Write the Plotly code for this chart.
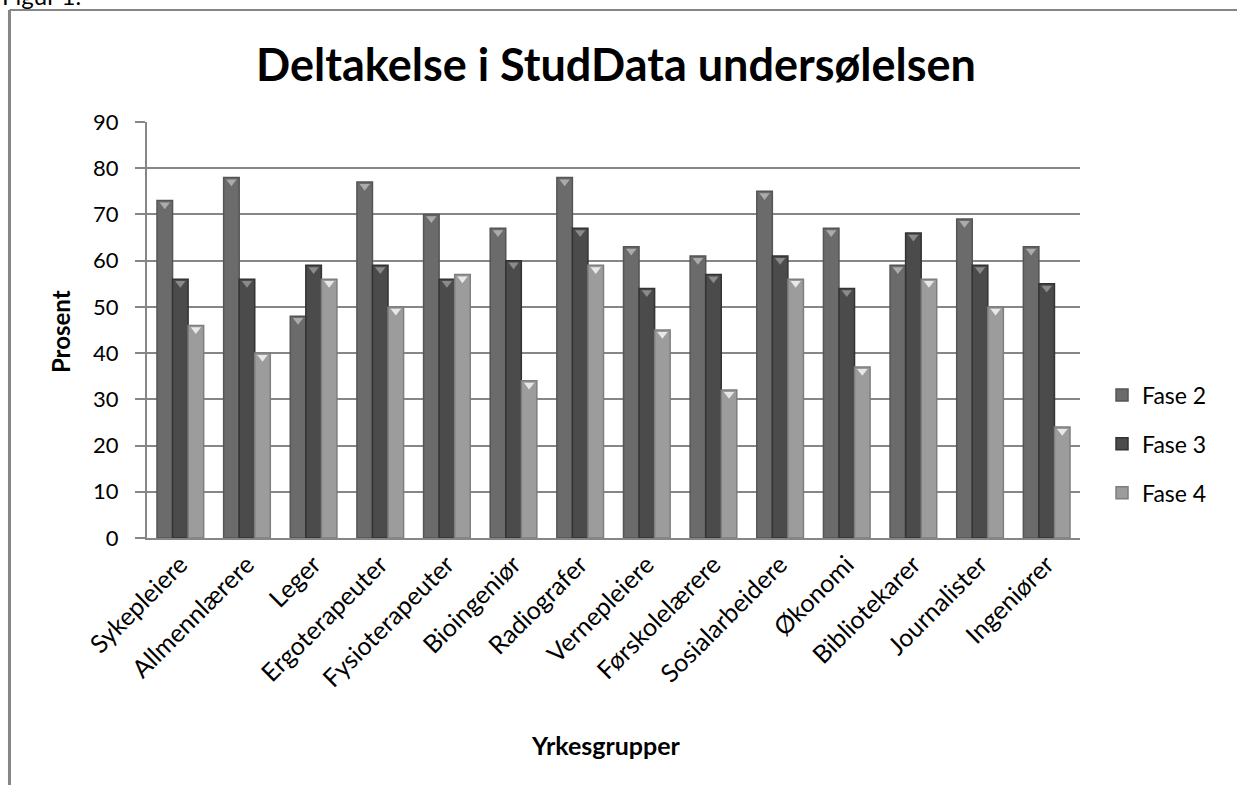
import plotly.graph_objects as go

categories = ["Sykepleiere", "Allmennlærere", "Leger", "Ergoterapeuter", "Fysioterapeuter",
              "Bioingeniør", "Radiografer", "Vernepleiere", "Førskolelærere", "Sosialarbeidere",
              "Økonomi", "Bibliotekarer", "Journalister", "Ingeniører"]
fase2 = [73, 78, 48, 77, 70, 67, 78, 63, 61, 75, 67, 59, 69, 63]
fase3 = [56, 56, 59, 59, 56, 60, 67, 54, 57, 61, 54, 66, 59, 55]
fase4 = [46, 40, 56, 50, 57, 34, 59, 45, 32, 56, 37, 56, 50, 24]
series_names = ["Fase 2", "Fase 3", "Fase 4"]
y_ticks = [0, 10, 20, 30, 40, 50, 60, 70, 80, 90]

bar_colors = ["#6b6b6b", "#4b4b4b", "#9c9c9c"]
edge_colors = ["#555555", "#333333", "#7e7e7e"]
cap_colors = ["#ababab", "#8a8a8a", "#e8e8e8"]

FONT = "Lato, 'Noto Sans', sans-serif"

fig = go.Figure()
for i, (name, vals) in enumerate(zip(series_names, [fase2, fase3, fase4])):
    fig.add_trace(go.Bar(
        x=categories, y=vals, name=name, offsetgroup=str(i), legendgroup=name,
        marker=dict(color=bar_colors[i], line=dict(color=edge_colors[i], width=1.5)),
    ))
for i, (name, vals) in enumerate(zip(series_names, [fase2, fase3, fase4])):
    fig.add_trace(go.Scatter(
        x=categories, y=[v - 0.9 for v in vals], mode="markers", offsetgroup=str(i),
        legendgroup=name,
        marker=dict(symbol="triangle-down", size=9, color=cap_colors[i], line=dict(width=0)),
        showlegend=False, hoverinfo="skip",
    ))

fig.update_layout(
    width=1237, height=785,
    paper_bgcolor="white", plot_bgcolor="white",
    margin=dict(l=147, r=157, t=122, b=247),
    barmode="group", bargap=0.3, bargroupgap=0.0,
    scattermode="group", scattergap=0.3,
    font=dict(family=FONT, color="#000000"),
    title=dict(text="<b>Deltakelse i StudData undersølelsen</b>",
               font=dict(size=45, family=FONT, color="#000"),
               x=0.498, xanchor="center", y=0.917, yanchor="middle"),
    legend=dict(x=1.0236, y=0.226, xanchor="left", yanchor="middle",
                font=dict(size=23, family=FONT), itemwidth=30,
                tracegroupgap=16, traceorder="grouped", bgcolor="rgba(0,0,0,0)"),
    xaxis=dict(type="category", tickangle=-45, tickfont=dict(size=25, family=FONT),
               showline=True, linecolor="#868686", linewidth=2,
               showgrid=False, ticks="", automargin=False),
    yaxis=dict(range=[0, 90], tickvals=y_ticks, tickfont=dict(size=22, family=FONT),
               showline=True, linecolor="#868686", linewidth=2,
               gridcolor="#868686", gridwidth=2, zeroline=False,
               ticks="outside", ticklen=10, tickcolor="#868686", tickwidth=2,
               ticklabelstandoff=12, automargin=False),
)

# axis titles
fig.add_annotation(text="<b>Yrkesgrupper</b>", xref="paper", yref="paper", x=0.492, y=-0.4976,
                   xanchor="center", yanchor="middle", showarrow=False,
                   font=dict(size=25, family=FONT, color="#000"))
fig.add_annotation(text="<b>Prosent</b>", xref="paper", yref="paper", x=-0.0932, y=0.495,
                   xanchor="center", yanchor="middle", showarrow=False, textangle=-90,
                   font=dict(size=24, family=FONT, color="#000"))

# page frame lines and cropped caption
fig.add_shape(type="line", xref="paper", yref="paper", x0=-0.1474, x1=1.17, y0=1.269, y1=1.269,
              line=dict(color="#868686", width=2))
fig.add_shape(type="line", xref="paper", yref="paper", x0=-0.1474, x1=-0.1474, y0=1.269, y1=-0.65,
              line=dict(color="#868686", width=3))
fig.add_annotation(text="Figur 1.", xref="paper", yref="paper", x=-0.1576, y=1.264,
                   xanchor="left", yanchor="bottom", showarrow=False,
                   font=dict(size=24, family=FONT, color="#000"))

fig.write_html("out.html", config={"displayModeBar": False},
               post_script="document.body.style.margin='0';document.body.style.overflow='hidden';")
